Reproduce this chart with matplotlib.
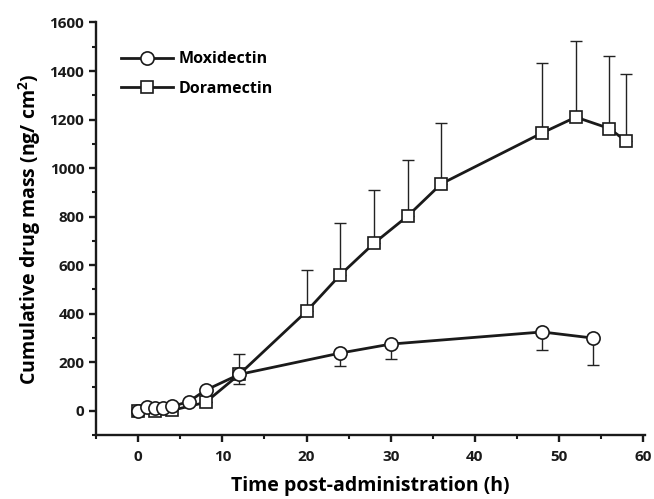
import matplotlib.pyplot as plt
from matplotlib.ticker import MultipleLocator

plt.rcParams['font.family'] = ['Open Sans', 'DejaVu Sans']
plt.rcParams['font.weight'] = 'bold'
plt.rcParams['mathtext.fontset'] = 'custom'
plt.rcParams['mathtext.bf'] = 'Open Sans:bold'
plt.rcParams['mathtext.rm'] = 'Open Sans:bold'

# Moxidectin (error bars drawn downward)
TimeMoxi = [0, 1, 2, 3, 4, 6, 8, 12, 24, 30, 48, 54]
ValMoxi = [0, 15, 10, 12, 18, 38, 85, 150, 238, 275, 325, 300]
ErrMoxi = [0, 0, 8, 8, 8, 8, 0, 38, 55, 63, 75, 112]

# Doramectin (error bars drawn upward)
TimeDora = [0, 2, 4, 8, 12, 20, 24, 28, 32, 36, 48, 52, 56, 58]
ValDora = [0, 0, 2, 35, 150, 410, 560, 690, 802, 935, 1145, 1210, 1163, 1110]
ErrDora = [0, 5, 8, 0, 85, 170, 215, 220, 233, 250, 288, 313, 300, 277]

fig = plt.figure(figsize=(6.54, 4.99), dpi=100)
ax = fig.add_axes([0.147, 0.128, 0.839, 0.827])

ax.errorbar(TimeMoxi, ValMoxi, yerr=[ErrMoxi, [0]*len(ErrMoxi)], fmt='none',
            ecolor='#222222', elinewidth=1.0, capsize=4, capthick=1.0, zorder=1)
ax.errorbar(TimeDora, ValDora, yerr=[[0]*len(ErrDora), ErrDora], fmt='none',
            ecolor='#222222', elinewidth=1.0, capsize=4, capthick=1.0, zorder=1)

ax.plot(TimeMoxi, ValMoxi, color='#1a1a1a', lw=2.0, marker='o', ms=9.5,
        mfc='white', mec='#1a1a1a', mew=1.2, label='Moxidectin', zorder=3)
ax.plot(TimeDora, ValDora, color='#1a1a1a', lw=2.0, marker='s', ms=8.5,
        mfc='white', mec='#1a1a1a', mew=1.2, label='Doramectin', zorder=2)

ax.set_xlim(-5, 60.2)
ax.set_ylim(-100, 1600)
ax.xaxis.set_major_locator(MultipleLocator(10))
ax.xaxis.set_minor_locator(MultipleLocator(5))
ax.yaxis.set_major_locator(MultipleLocator(200))
ax.yaxis.set_minor_locator(MultipleLocator(100))

for s in ['top', 'right']:
    ax.spines[s].set_visible(False)
for s in ['left', 'bottom']:
    ax.spines[s].set_linewidth(1.7)
    ax.spines[s].set_color('#1a1a1a')

ax.tick_params(which='major', direction='out', length=5, width=1.7, labelsize=11, colors='#1a1a1a')
ax.tick_params(axis='x', which='major', pad=6)
ax.tick_params(which='minor', direction='out', length=3, width=1.5, colors='#1a1a1a')

ax.set_xlabel('Time post-administration (h)', fontsize=14, fontweight='bold', labelpad=8)
ax.set_ylabel(r'Cumulative drug mass (ng/ cm$^{\mathbf{2}}$)', fontsize=14, fontweight='bold', labelpad=5)

ax.legend(loc='upper left', bbox_to_anchor=(0.02, 0.965), frameon=False, fontsize=11.5,
          handlelength=3.2, labelspacing=0.85, handletextpad=0.4)

fig.savefig('out.png', dpi=100)
